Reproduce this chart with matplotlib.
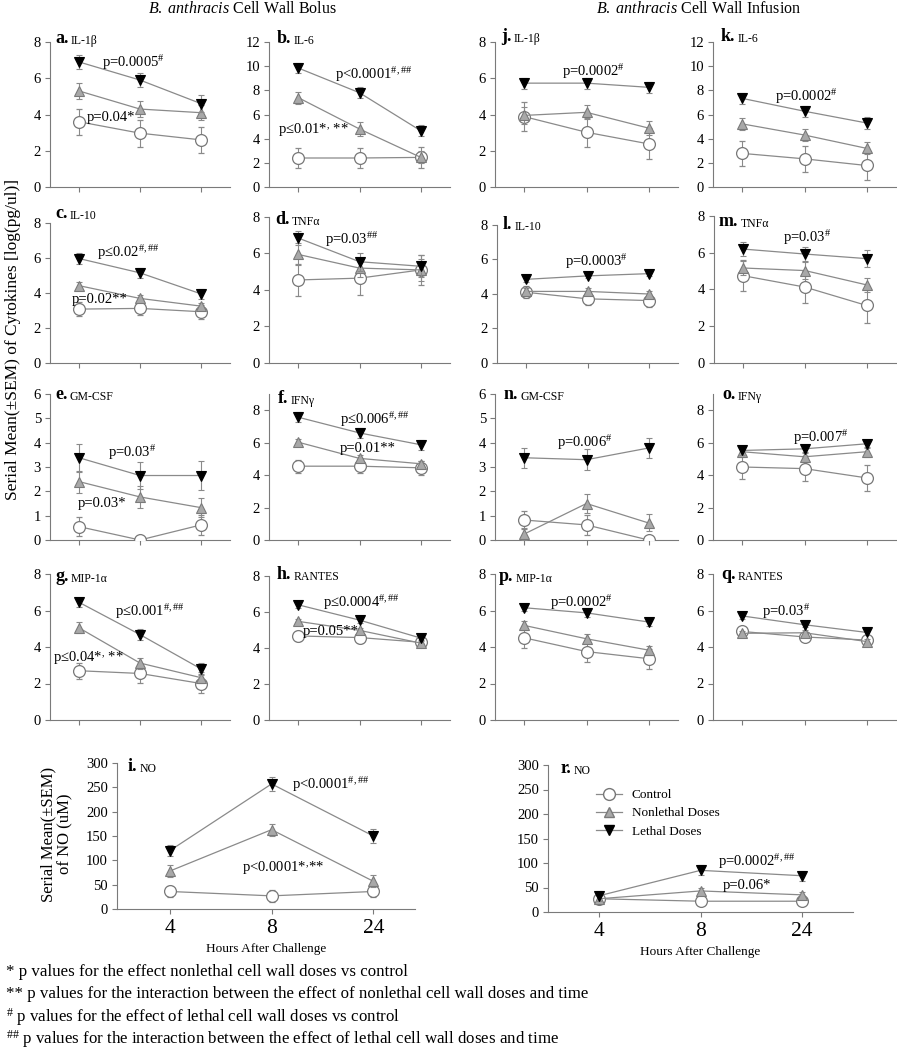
import matplotlib
matplotlib.use("Agg")
import matplotlib.pyplot as plt
from matplotlib.lines import Line2D

plt.rcParams['font.family'] = ['Liberation Serif', 'DejaVu Serif']
plt.rcParams['mathtext.fontset'] = 'custom'
plt.rcParams['mathtext.rm'] = 'Liberation Serif'
plt.rcParams['mathtext.it'] = 'Liberation Serif:italic'
plt.rcParams['mathtext.bf'] = 'Liberation Serif:bold'

# ---------------- data ----------------
hours = ["4", "8", "24"]
panel_letters = list("abcdefghijklmnopqr")
panel_names = ["IL-1β", "IL-6", "IL-10", "TNFα", "GM-CSF", "IFNγ", "MIP-1α", "RANTES", "NO",
               "IL-1β", "IL-6", "IL-10", "TNFα", "GM-CSF", "IFNγ", "MIP-1α", "RANTES", "NO"]

control_mean = [
    [3.60, 2.97, 2.60], [2.40, 2.40, 2.45], [3.08, 3.12, 2.93], [4.55, 4.65, 5.10],
    [0.55, 0.00, 0.62], [4.55, 4.55, 4.45], [2.70, 2.55, 2.00], [4.67, 4.58, 4.32],
    [36, 27, 36],
    [3.88, 3.02, 2.38], [2.78, 2.33, 1.78], [4.10, 3.72, 3.62], [4.75, 4.13, 3.13],
    [0.82, 0.62, 0.00], [4.50, 4.40, 3.83], [4.50, 3.75, 3.36], [4.85, 4.55, 4.38],
    [27, 22, 22]]
control_sem = [
    [0.73, 0.75, 0.73], [0.85, 0.85, 0.85], [0.40, 0.40, 0.40], [0.90, 0.90, 0.80],
    [0.40, 0.00, 0.40], [0.40, 0.40, 0.45], [0.45, 0.50, 0.50], [0.30, 0.30, 0.20],
    [12, 12, 12],
    [0.80, 0.80, 0.85], [1.05, 1.05, 1.20], [0.35, 0.35, 0.35], [0.85, 0.85, 0.95],
    [0.38, 0.40, 0.00], [0.75, 0.75, 0.78], [0.55, 0.55, 0.55], [0.20, 0.15, 0.15],
    [4, 4, 4]]
nonlethal_mean = [
    [5.30, 4.30, 4.10], [7.40, 4.80, 2.45], [4.42, 3.69, 3.25], [5.95, 5.20, 5.10],
    [2.40, 1.77, 1.33], [6.03, 5.03, 4.70], [5.05, 3.12, 2.32], [5.48, 4.98, 4.27],
    [78, 163, 57],
    [3.95, 4.12, 3.25], [5.22, 4.30, 3.20], [4.15, 4.15, 4.00], [5.17, 5.03, 4.25],
    [0.25, 1.50, 0.70], [5.44, 5.13, 5.44], [5.18, 4.45, 3.83], [4.75, 4.78, 4.30],
    [27, 43, 35]]
nonlethal_sem = [
    [0.45, 0.45, 0.40], [0.50, 0.55, 0.50], [0.20, 0.20, 0.20], [0.60, 0.50, 0.60],
    [0.45, 0.45, 0.40], [0.20, 0.20, 0.20], [0.30, 0.30, 0.30], [0.15, 0.15, 0.15],
    [12, 12, 12],
    [0.45, 0.38, 0.40], [0.50, 0.50, 0.50], [0.20, 0.20, 0.20], [0.40, 0.45, 0.40],
    [0.25, 0.38, 0.35], [0.30, 0.30, 0.30], [0.25, 0.25, 0.25], [0.15, 0.15, 0.15],
    [5, 5, 5]]
lethal_mean = [
    [6.90, 5.90, 4.60], [9.85, 7.80, 4.65], [5.97, 5.15, 3.95], [6.85, 5.55, 5.30],
    [3.38, 2.65, 2.65], [7.57, 6.60, 5.87], [6.45, 4.68, 2.80], [6.40, 5.55, 4.55],
    [120, 257, 150],
    [5.73, 5.73, 5.50], [7.33, 6.27, 5.30], [4.85, 5.05, 5.18], [6.20, 5.93, 5.68],
    [3.38, 3.30, 3.78], [5.52, 5.62, 5.93], [6.15, 5.87, 5.37], [5.70, 5.22, 4.80],
    [33, 85, 74]]
lethal_sem = [
    [0.40, 0.40, 0.45], [0.45, 0.45, 0.45], [0.30, 0.30, 0.30], [0.40, 0.50, 0.60],
    [0.58, 0.55, 0.58], [0.30, 0.30, 0.30], [0.25, 0.30, 0.35], [0.15, 0.15, 0.15],
    [12, 15, 15],
    [0.30, 0.30, 0.30], [0.45, 0.45, 0.50], [0.15, 0.15, 0.15], [0.40, 0.40, 0.45],
    [0.42, 0.42, 0.42], [0.25, 0.25, 0.25], [0.20, 0.20, 0.20], [0.15, 0.15, 0.15],
    [10, 10, 10]]

y_max = [8, 12, 8, 8, 6, 9, 8, 8, 300, 8, 12, 8, 8, 6, 9, 8, 8, 300]
y_step = [2, 2, 2, 2, 1, 2, 2, 2, 50, 2, 2, 2, 2, 1, 2, 2, 2, 50]
y_tick_top = [8, 12, 8, 8, 6, 8, 8, 8, 300, 8, 12, 8, 8, 6, 8, 8, 8, 300]

p_texts = [
    ["p=0.0005$^{\\#}$", "p=0.04*"],
    ["p<0.0001$^{\\#,\\#\\#}$", "p≤0.01*$^{,}$ **"],
    ["p≤0.02$^{\\#,\\#\\#}$", "p=0.02**"],
    ["p=0.03$^{\\#\\#}$"],
    ["p=0.03$^{\\#}$", "p=0.03*"],
    ["p≤0.006$^{\\#,\\#\\#}$", "p=0.01**"],
    ["p≤0.001$^{\\#,\\#\\#}$", "p≤0.04*$^{,}$ **"],
    ["p≤0.0004$^{\\#,\\#\\#}$", "p=0.05**"],
    ["p<0.0001$^{\\#,\\#\\#}$", "p<0.0001*$^{,}$**"],
    ["p=0.0002$^{\\#}$"],
    ["p=0.0002$^{\\#}$"],
    ["p=0.0003$^{\\#}$"],
    ["p=0.03$^{\\#}$"],
    ["p=0.006$^{\\#}$"],
    ["p=0.007$^{\\#}$"],
    ["p=0.0002$^{\\#}$"],
    ["p=0.03$^{\\#}$"],
    ["p=0.0002$^{\\#,\\#\\#}$", "p=0.06*"]]

series_labels = ["Control", "Nonlethal Doses", "Lethal Doses"]
column_titles = ["Cell Wall Bolus", "Cell Wall Infusion"]

# ---------------- layout (pixels) ----------------
W, H = 897, 1050
fig = plt.figure(figsize=(W / 100, H / 100), dpi=100)

# left, top(ylim max), right, bottom(y=0)
rects = [
    (50, 42, 230, 187), (269, 42, 450, 187), (50, 223, 230, 363), (269, 217, 450, 363),
    (50, 394, 230, 540), (269, 394, 450, 540), (50, 574, 230, 720), (269, 576, 450, 720),
    (117, 763, 415, 909),
    (495, 42, 678, 187), (713, 42, 896, 187), (497, 225, 678, 363), (714, 216, 896, 363),
    (495, 394, 678, 540), (713, 394, 896, 540), (495, 574, 678, 720), (713, 574, 896, 720),
    (548, 765, 853, 912)]
# left x and baseline y of the bold panel letters
label_pos = [
    (55, 43), (277, 43), (55, 218), (275, 224), (55, 399), (278, 403), (55, 581), (277, 579),
    (128, 771),
    (501, 41), (721, 41), (503, 229), (719, 226), (504, 399), (722, 399), (499, 581), (721, 579),
    (561, 773)]
p_pos = [
    [(102, 63), (87, 117)], [(335, 75), (278, 130)], [(97, 253), (72, 300)], [(325, 240)],
    [(108, 453), (78, 503)], [(340, 420), (340, 448)], [(115, 612), (53, 657)],
    [(323, 603), (303, 632)], [(292, 785), (242, 868)],
    [(562, 72)], [(775, 97)], [(565, 262)], [(783, 238)], [(557, 443)], [(793, 438)],
    [(550, 603)], [(762, 612)], [(718, 862), (723, 886)]]

LINE = '#8a8a8a'
SPINE = '#7a7a7a'
NL_FILL = '#a8a8a8'


def fx(x):
    return x / W


def fy(y):
    return 1 - y / H


x = [0, 1, 2]
for k in range(18):
    l, t, r, b = rects[k]
    ax = fig.add_axes([fx(l), fy(b), (r - l) / W, (b - t) / H])
    big = panel_names[k] == "NO"
    ax.errorbar(x, control_mean[k], yerr=control_sem[k], color=LINE, lw=0.9,
                marker='o', ms=8.5, mfc='white', mec='#777777', mew=0.9,
                ecolor=LINE, elinewidth=0.8, capsize=2.5, capthick=0.8, zorder=3)
    ax.errorbar(x, nonlethal_mean[k], yerr=nonlethal_sem[k], color=LINE, lw=0.9,
                marker='^', ms=7.5, mfc=NL_FILL, mec='#7a7a7a', mew=0.8,
                ecolor=LINE, elinewidth=0.8, capsize=2.5, capthick=0.8, zorder=4)
    ax.errorbar(x, lethal_mean[k], yerr=lethal_sem[k], color=LINE, lw=0.9,
                marker='v', ms=7.5, mfc='black', mec='black', mew=0.8,
                ecolor=LINE, elinewidth=0.8, capsize=2.5, capthick=0.8, zorder=5)
    ax.set_ylim(0, y_max[k])
    if big:
        ax.set_xlim(-0.52, 2.41) if k == 8 else ax.set_xlim(-0.5, 2.5)
    else:
        ax.set_xlim(-0.475, 2.475)
    ax.set_yticks(list(range(0, y_tick_top[k] + 1, y_step[k])))
    ax.set_xticks(x)
    for s in ['top', 'right']:
        ax.spines[s].set_visible(False)
    for s in ['left', 'bottom']:
        ax.spines[s].set_color(SPINE)
        ax.spines[s].set_linewidth(0.8)
    ax.tick_params(direction='out', length=3.5, width=0.8, color=SPINE,
                   labelsize=10.5, pad=3)
    if big:
        ax.set_xticklabels(hours)
        ax.tick_params(axis='x', labelsize=15.5, pad=4)
        ax.set_xlabel("Hours After Challenge", fontsize=9.5, labelpad=3)
    else:
        ax.set_xticklabels([])
    ax.patch.set_alpha(0)

    lx, ly = label_pos[k]
    tl = fig.text(fx(lx), fy(ly), panel_letters[k] + ".", fontsize=13,
                  fontweight='bold', ha='left', va='baseline')
    ax.annotate(panel_names[k], xy=(1, 0), xycoords=tl, xytext=(1.5, 0),
                textcoords='offset points', fontsize=8.5, ha='left', va='bottom',
                annotation_clip=False)
    for txt, (px, py) in zip(p_texts[k], p_pos[k]):
        fig.text(fx(px), fy(py), txt, fontsize=10.5, ha='left', va='center', zorder=10)

    if k == 17:
        handles = [
            Line2D([], [], color=LINE, lw=0.9, marker='o', ms=8.5, mfc='white', mec='#777777'),
            Line2D([], [], color=LINE, lw=0.9, marker='^', ms=7.5, mfc=NL_FILL, mec='#7a7a7a'),
            Line2D([], [], color=LINE, lw=0.9, marker='v', ms=7.5, mfc='black', mec='black')]
        fig.legend(handles, series_labels, loc='upper left',
                   bbox_to_anchor=(fx(596), fy(789)), bbox_transform=fig.transFigure,
                   frameon=False, fontsize=9.5, handlelength=2.0, handletextpad=0.7,
                   borderpad=0, borderaxespad=0, labelspacing=0.45)

# column titles
fig.text(fx(242), fy(9), "$\\it{B.\\ anthracis}$ " + column_titles[0], fontsize=11.5,
         ha='center', va='center')
fig.text(fx(699), fy(9), "$\\it{B.\\ anthracis}$ " + column_titles[1], fontsize=11.5,
         ha='center', va='center')

# y labels
fig.text(fx(13), fy(340), "Serial Mean(±SEM) of Cytokines [log(pg/ul)]", fontsize=12.5,
         rotation=90, ha='center', va='center')
fig.text(fx(57), fy(834), "Serial Mean(±SEM)\nof NO (uM)", fontsize=12,
         rotation=90, ha='center', va='center', linespacing=1.1)

# footnotes
foot = ["* p values for the effect nonlethal cell wall doses vs control",
        "** p values for the interaction between the effect of nonlethal cell wall doses and time",
        "$^{\\#}$ p values for the effect of lethal cell wall doses vs control",
        "$^{\\#\\#}$ p values for the interaction between the effect of lethal cell wall doses and time"]
for i, ftxt in enumerate(foot):
    fig.text(fx(6), fy(972 + 22.5 * i), ftxt, fontsize=12.2, ha='left', va='center')

fig.savefig("out.png", dpi=100)
